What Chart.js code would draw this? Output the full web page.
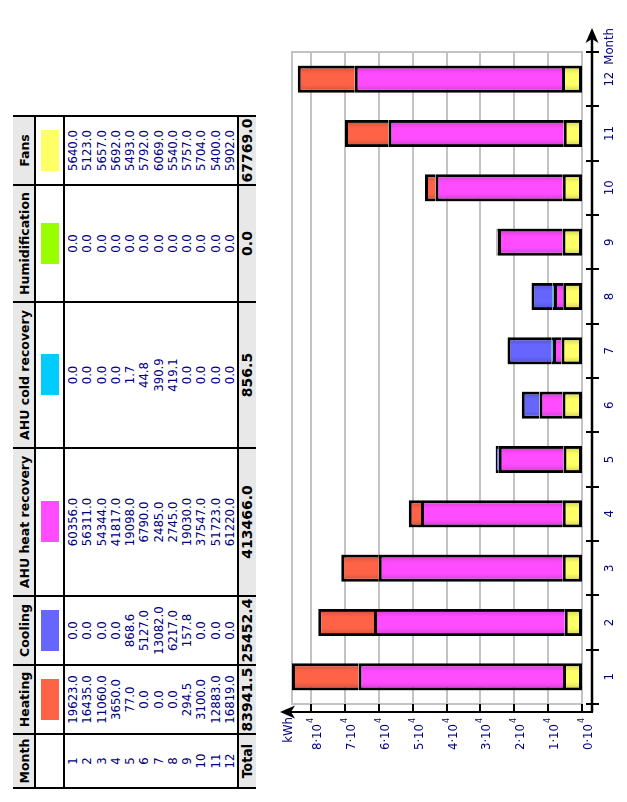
<!DOCTYPE html>
<html><head><meta charset="utf-8">
<script src="https://cdn.jsdelivr.net/npm/chart.js@4.4.0/dist/chart.umd.min.js"></script>
<style>
html,body{margin:0;padding:0;background:#fff;width:627px;height:802px;overflow:hidden}
#rot{position:absolute;left:0;top:0;width:802px;height:627px;transform-origin:0 0;transform:translateY(802px) rotate(-90deg);}
.cell{position:absolute;box-sizing:border-box;display:flex;align-items:center;justify-content:center;text-align:center;white-space:nowrap;}
.hd{font:bold 12.5px 'DejaVu Sans',sans-serif;color:#000;}
.dt{font:13px 'DejaVu Sans Condensed','DejaVu Sans',sans-serif;font-stretch:condensed;color:#000080;line-height:14.27px;align-items:flex-start;padding-top:2px;}
.tt{font:bold 14px 'DejaVu Sans',sans-serif;color:#000;}
.ln{position:absolute;background:#000;}
.bg{position:absolute;background:#e8e8e8;}
#c{position:absolute;left:0;top:262px;}
</style>
</head><body>
<div id="rot"><canvas id="c" width="802" height="365"></canvas></div>
<script>
// ---------- data ----------
const months = ['1','2','3','4','5','6','7','8','9','10','11','12'];
const heating = [19623.0,16435.0,11060.0,3650.0,77.0,0.0,0.0,0.0,294.5,3100.0,12883.0,16819.0];
const cooling = [0.0,0.0,0.0,0.0,868.6,5127.0,13082.0,6217.0,157.8,0.0,0.0,0.0];
const ahuHeatRecovery = [60356.0,56311.0,54344.0,41817.0,19098.0,6790.0,2485.0,2745.0,19030.0,37547.0,51723.0,61220.0];
const ahuColdRecovery = [0.0,0.0,0.0,0.0,1.7,44.8,390.9,419.1,0.0,0.0,0.0,0.0];
const humidification = [0.0,0.0,0.0,0.0,0.0,0.0,0.0,0.0,0.0,0.0,0.0,0.0];
const fans = [5640.0,5123.0,5657.0,5692.0,5493.0,5792.0,6069.0,5540.0,5757.0,5704.0,5400.0,5902.0];
const seriesNames = ['Heating','Cooling','AHU heat recovery','AHU cold recovery','Humidification','Fans'];
const seriesColors = ['#ff6347','#6666ff','#ff4cff','#00ccff','#99ff00','#ffff66'];
const kwhTicks = [0,10000,20000,30000,40000,50000,60000,70000,80000];
const kwhTickLabels = ['0·10','1·10','2·10','3·10','4·10','5·10','6·10','7·10','8·10'];
const kwhTickExp = '4';
const seriesData = [heating, cooling, ahuHeatRecovery, ahuColdRecovery, humidification, fans];
const stackOrder = [5,4,2,3,1,0]; // from the zero line outwards

// ---------- table ----------
const rot = document.getElementById('rot');
const colX = [14,68,137,206,354,500,617,686];
const rowY = [13,35,64,238,256];
function add(cls, x, y, w, h, html){
  const d = document.createElement('div'); d.className = cls;
  d.style.left = x+'px'; d.style.top = y+'px'; d.style.width = w+'px'; d.style.height = h+'px';
  if (html !== undefined) d.innerHTML = html;
  rot.appendChild(d); return d;
}
add('bg', colX[0], rowY[0], colX[7]-colX[0], rowY[1]-rowY[0]);
add('bg', colX[0], rowY[3], colX[7]-colX[0], rowY[4]-rowY[3]);
const headers = ['Month'].concat(seriesNames);
for (let c = 0; c < 7; c++) {
  const x = colX[c], w = colX[c+1]-colX[c];
  add('cell hd', x, rowY[0], w, rowY[1]-rowY[0], headers[c]);
  const sw = add('cell', x, rowY[1], w, rowY[2]-rowY[1]);
  if (c > 0) {
    const s = document.createElement('div');
    s.style.cssText = 'width:41px;height:18px;background:'+seriesColors[c-1];
    sw.appendChild(s);
  }
  const vals = c === 0 ? months : seriesData[c-1].map(v => v.toFixed(1));
  add('cell dt', x, rowY[2], w, rowY[3]-rowY[2], vals.join('<br>'));
  const tot = c === 0 ? 'Total' : seriesData[c-1].reduce((s,v)=>s+v,0).toFixed(1);
  const t = add('cell tt', x, rowY[3], w, rowY[4]-rowY[3], tot);
  if (c === 0) t.style.fontFamily = "'DejaVu Sans Condensed','DejaVu Sans',sans-serif";
}
colX.forEach(x => add('ln', x-1, rowY[0], 2, rowY[4]-rowY[0]));
[rowY[1], rowY[2], rowY[3]].forEach(y => add('ln', colX[0], y-1, colX[7]-colX[0], 2));

// ---------- chart ----------
const barPct = 0.5;
function shade(hex, f){
  const n = parseInt(hex.slice(1),16);
  return 'rgb('+Math.round(((n>>16)&255)*f)+','+Math.round(((n>>8)&255)*f)+','+Math.round((n&255)*f)+')';
}
function barBg(color){
  return (c) => {
    const chart = c.chart, xs = chart.scales && chart.scales.x;
    if (c.type !== 'data' || !xs || !chart.chartArea) return color;
    const cx = xs.getPixelForValue(c.dataIndex);
    const w = (xs.right - xs.left) / months.length * barPct;
    const g = chart.ctx.createLinearGradient(cx - w/2, 0, cx + w/2, 0);
    g.addColorStop(0, shade(color, 0.8));
    g.addColorStop(0.3, color);
    g.addColorStop(0.7, color);
    g.addColorStop(1, shade(color, 0.8));
    return g;
  };
}
const totals = months.map((_, k) => seriesData.reduce((s, a) => s + a[k], 0));
const maxTotal = Math.max(...totals);

const datasets = stackOrder.map(i => ({
  label: seriesNames[i],
  data: seriesData[i],
  backgroundColor: barBg(seriesColors[i]),
  borderColor: '#000',
  borderWidth: 3,
  borderSkipped: i === 5 ? false : 'start',
  barPercentage: barPct,
  categoryPercentage: 1
}));

const axisFont = "13px 'DejaVu Sans Condensed','DejaVu Sans',sans-serif";
const axisColor = '#000080';
function arrow(ctx, tx, ty, dx, dy){
  const L = 15, W = 6.5, N = 11, px = -dy, py = dx;
  ctx.beginPath();
  ctx.moveTo(tx, ty);
  ctx.lineTo(tx - dx*L + px*W, ty - dy*L + py*W);
  ctx.lineTo(tx - dx*N, ty - dy*N);
  ctx.lineTo(tx - dx*L - px*W, ty - dy*L - py*W);
  ctx.closePath(); ctx.fill();
}
const axesPlugin = {
  id: 'axes',
  beforeDatasetsDraw(chart){
    const ctx = chart.ctx, a = chart.chartArea, ys = chart.scales.y;
    ctx.save();
    ctx.strokeStyle = '#c3c3c3'; ctx.lineWidth = 2;
    kwhTicks.forEach(v => {
      const y = Math.round(ys.getPixelForValue(v));
      ctx.beginPath(); ctx.moveTo(a.left, y); ctx.lineTo(a.right, y); ctx.stroke();
    });
    ctx.strokeRect(a.left, a.top, a.right - a.left, a.bottom - a.top);
    ctx.restore();
  },
  afterDraw(chart){
    const ctx = chart.ctx, a = chart.chartArea, xs = chart.scales.x, ys = chart.scales.y;
    const ay = Math.round(ys.getPixelForValue(0)) + 10;
    const ax = a.left - 8;
    ctx.save();
    ctx.strokeStyle = '#000'; ctx.fillStyle = '#000';
    ctx.lineWidth = 2.5;
    ctx.beginPath(); ctx.moveTo(ax, ay); ctx.lineTo(a.right + 16, ay); ctx.stroke();
    arrow(ctx, a.right + 24, ay, 1, 0);
    ctx.lineWidth = 2;
    ctx.beginPath(); ctx.moveTo(ax, ay + 1); ctx.lineTo(ax, a.top - 4); ctx.stroke();
    arrow(ctx, ax, a.top - 12, 0, -1);
    // month ticks at category boundaries
    ctx.lineWidth = 2;
    for (let i = 0; i <= months.length; i++) {
      const x = Math.round(xs.getPixelForValue(i - 0.5));
      ctx.beginPath(); ctx.moveTo(x, ay - 6); ctx.lineTo(x, ay + 7); ctx.stroke();
    }
    // kWh ticks
    kwhTicks.forEach(v => {
      const y = Math.round(ys.getPixelForValue(v));
      ctx.beginPath(); ctx.moveTo(ax, y); ctx.lineTo(a.left, y); ctx.stroke();
    });
    ctx.fillStyle = axisColor;
    ctx.font = axisFont; ctx.textBaseline = 'alphabetic';
    ctx.textAlign = 'center';
    months.forEach((m, i) => ctx.fillText(m, xs.getPixelForValue(i), ay + 21));
    ctx.textAlign = 'right';
    ctx.fillText('Month', a.right + 24, ay + 21);
    kwhTicks.forEach((v, i) => {
      const y = ys.getPixelForValue(v);
      ctx.font = axisFont;
      ctx.fillText(kwhTickLabels[i], ax - 12, y + 10);
      ctx.font = "8px 'DejaVu Sans',sans-serif";
      ctx.fillText(kwhTickExp, ax - 6, y + 2);
    });
    ctx.font = axisFont;
    ctx.fillText('kWh', ax - 5, a.top);
    ctx.restore();
  }
};

new Chart(document.getElementById('c'), {
  type: 'bar',
  data: { labels: months, datasets },
  options: {
    responsive: false,
    devicePixelRatio: 1,
    animation: false,
    layout: { padding: { left: 98, right: 52, top: 30, bottom: 45 } },
    plugins: { legend: { display: false }, tooltip: { enabled: false } },
    scales: {
      x: { type: 'category', stacked: true, display: false, offset: true },
      y: { stacked: true, display: false, min: 0, max: maxTotal }
    }
  },
  plugins: [axesPlugin]
});
</script>
</body></html>
